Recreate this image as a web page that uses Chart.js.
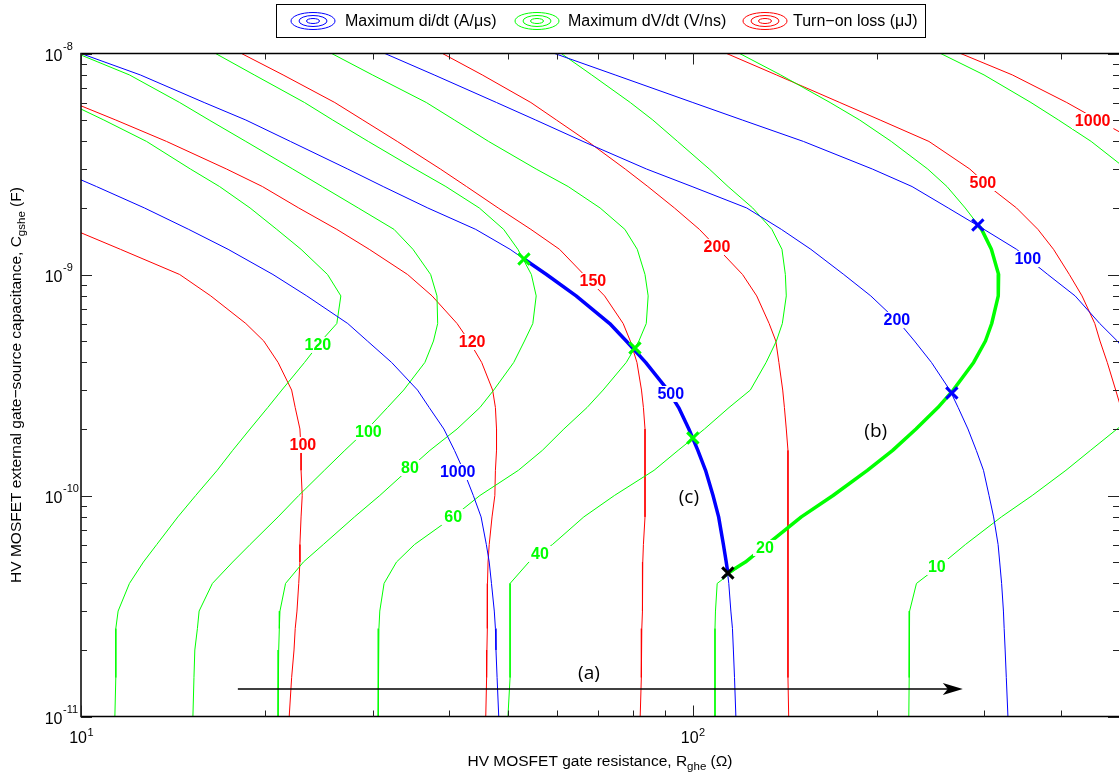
<!DOCTYPE html>
<html>
<head>
<meta charset="utf-8">
<title>Gate resistance / gate-source capacitance design map</title>
<script src="https://cdn.jsdelivr.net/npm/chart.js@4.4.1/dist/chart.umd.min.js"></script>
<style>
  html, body { margin: 0; padding: 0; background: #fff; }
  canvas { display: block; }
</style>
</head>
<body>
<canvas id="myChart" width="1119" height="777"></canvas>
<script>
// external gate-source capacitance (F): the rows every contour is read at
const capGrid = [1e-8, 8e-9, 6e-9, 5e-9, 4e-9, 3e-9, 2.5e-9, 2e-9, 1.6e-9, 1.3e-9,
  1e-9, 8e-10, 6e-10, 5e-10, 4e-10, 3e-10, 2.5e-10, 2e-10, 1.6e-10, 1.3e-10,
  1e-10, 8e-11, 6e-11, 5e-11, 4e-11, 3e-11, 2.5e-11, 2e-11, 1.5e-11, 1e-11];

// gate resistance (ohm) of each contour at the capGrid rows, null = not on the map
// maximum di/dt (A/us)
const didt1000 = [null, null, null, null, null, 9.1, 10.6, 12.7, 15.0, 17.4,
  20.6, 23.4, 27.3, 29.4, 32.2, 35.5, 37.1, 39.2, 40.8, 42.2,
  43.8, 45.1, 46.0, 46.5, 46.9, 47.4, 47.6, 47.7, 47.9, 48.2];
const didt500 = [10.0, 12.5, 15.9, 18.6, 22.0, 27.3, 31.2, 36.9, 44.2, 50.3,
  57.7, 64.5, 73.2, 77.9, 83.8, 91.1, 94.9, 98.6, 102.0, 105.0,
  108.0, 110.3, 112.3, 113.5, 114.6, 115.5, 116.2, 116.6, 117.1, 117.7];
const didt200 = [31.4, 37.8, 47.8, 55.4, 66.2, 84.1, 99.8, 122.6, 139.7, 156.1,
  176.7, 195.6, 218.3, 230.6, 245.8, 263.4, 271.8, 282.0, 291.0, 299.0,
  305.3, 310.6, 315.9, 317.8, 320.1, 322.3, 323.2, 324.4, 325.8, 327.8];
const didt100 = [59.5, 74.7, 100.1, 120.6, 151.8, 196.8, 228.5, 261.8, 299.6, 338.6,
  380.9, 422.2, 463.2, 494.8, 528.0, null, null, null, null, null,
  null, null, null, null, null, null, null, null, null, null];

// maximum dV/dt (V/ns)
const dvdt120 = [null, 7.6, 9.5, 10.9, 12.8, 15.1, 16.85, 18.9, 20.9, 22.9,
  25.3, 26.6, 26.2, 24.7, 23.2, 21.3, 20.2, 18.9, 17.7, 16.7,
  15.4, 14.4, 13.3, 12.65, 12.0, 11.5, 11.4, 11.4, 11.4, 11.36];
const dvdt100 = [9.86, 12.0, 14.5, 16.2, 18.6, 22.2, 24.8, 28.4, 32.5, 34.9,
  37.3, 38.2, 38.3, 37.7, 36.5, 33.7, 31.7, 29.4, 27.0, 25.0,
  22.7, 21.0, 18.9, 17.7, 16.4, 15.6, 15.5, 15.35, 15.3, 15.24];
const dvdt80 = [16.6, 19.2, 23.2, 25.8, 29.5, 35.2, 39.5, 44.8, 49.1, 51.8,
  54.5, 55.5, 54.8, 53.1, 51.0, 47.3, 44.9, 41.2, 37.2, 34.2,
  30.8, 28.0, 24.9, 23.1, 21.6, 21.15, 21.1, 21.05, 21.0, 21.0];
const dvdt60 = [25.7, 29.96, 36.7, 40.8, 46.4, 55.5, 62.6, 70.6, 77.5, 81.2,
  83.6, 84.6, 84.0, 81.7, 77.9, 71.4, 67.2, 61.6, 56.8, 51.9,
  44.9, 40.6, 35.1, 32.8, 31.3, 30.8, 30.7, 30.65, 30.6, 30.6];
const dvdt40 = [61.0, 68.4, 79.1, 86.1, 94.5, 106.5, 114.3, 125.4, 134.8, 140.0,
  141.8, 142.3, 140.2, 137.1, 131.9, 124.3, 114.7, 104.6, 94.7, 86.5,
  74.5, 66.4, 59.0, 54.0, 50.3, 50.3, 50.3, 50.3, 50.3, 49.9];
const dvdt20 = [119.4, 139.3, 167.8, 187.6, 211.3, 242.4, 260.6, 279.1, 296.9, 308.0,
  316.5, 316.1, 308.4, 301.2, 288.1, 266.8, 251.8, 231.9, 212.4, 193.1,
  169.7, 150.6, 132.3, 122.0, 109.7, 109.0, 108.8, 108.8, 108.8, 108.8];
const dvdt10 = [254.5, 299.6, 357.5, 396.6, 448.5, 512.0, null, null, null, null,
  null, null, null, null, null, null, 553.0, 494.4, 447.3, 407.8,
  359.2, 319.8, 279.3, 258.0, 232.3, 226.4, 226.2, 226.0, 225.9, 225.7];

// turn-on loss (uJ)
const loss100 = [null, null, null, null, null, null, null, null, 9.7, 11.6,
  14.5, 16.3, 18.6, 19.9, 21.0, 22.1, 22.4, 22.8, 22.9, 22.9,
  23.0, 22.9, 22.8, 22.8, 22.7, 22.55, 22.4, 22.3, 22.1, 21.9];
const loss120 = [null, 7.5, 9.7, 11.4, 13.8, 17.3, 19.8, 22.7, 26.2, 29.6,
  34.2, 37.5, 41.2, 43.1, 45.2, 47.1, 47.6, 47.8, 47.8, 47.6,
  47.5, 47.0, 46.5, 46.3, 46.2, 46.2, 46.15, 46.1, 46.05, 45.9];
const loss150 = [18.3, 21.4, 26.0, 28.9, 32.9, 38.7, 42.7, 48.1, 54.4, 60.6,
  66.4, 71.8, 77.0, 79.1, 81.1, 82.5, 83.1, 83.6, 83.6, 83.6,
  83.6, 83.6, 83.1, 82.9, 82.9, 82.7, 82.6, 82.5, 82.4, 82.1];
const loss200 = [39.0, 45.3, 54.4, 59.9, 67.4, 77.6, 84.5, 93.4, 102.6, 110.3,
  120.7, 127.3, 133.4, 136.8, 138.4, 140.4, 141.3, 142.3, 143.2, 143.2,
  143.2, 143.2, 143.2, 143.2, 143.2, 143.2, 143.2, 143.2, 143.2, 143.6];
const loss500 = [113.7, 137.1, 174.1, 202.6, 243.5, 284.0, 305.3, 338.6, 367.0, 389.2,
  413.1, 433.3, 454.6, 463.6, 476.5, 491.8, 501.5, 511.6, null, null,
  null, null, null, null, null, null, null, null, null, null];
const loss1000 = [274.4, 333.3, 409.1, 460.1, 532.5, null, null, null, null, null,
  null, null, null, null, null, null, null, null, null, null,
  null, null, null, null, null, null, null, null, null, null];

// contour level labels
const didtLevels = ['1000', '500', '200', '100'];
const didtLabelR = [41.3, 92.1, 215.8, 353.3];
const didtLabelC = [1.277e-10, 2.88e-10, 6.22e-10, 1.175e-9];
const dvdtLevels = ['120', '100', '80', '60', '40', '20', '10'];
const dvdtLabelR = [24.4, 29.5, 34.5, 40.6, 56.3, 131.3, 250.8];
const dvdtLabelC = [4.80e-10, 1.94e-10, 1.332e-10, 7.99e-11, 5.44e-11, 5.79e-11, 4.75e-11];
const lossLevels = ['100', '120', '150', '200', '500', '1000'];
const lossLabelR = [23.06, 43.6, 68.7, 109.6, 298.3, 451];
const lossLabelC = [1.693e-10, 4.95e-10, 9.34e-10, 1.331e-9, 2.594e-9, 4.95e-9];

// intersection markers
const crossGreenR = [53.0, 80.5, 100.1];
const crossGreenC = [1.175e-9, 4.65e-10, 1.82e-10];
const crossBlackR = [114.2];
const crossBlackC = [4.46e-11];
const crossBlueR = [265.4, 292.7];
const crossBlueC = [2.91e-10, 1.675e-9];

// annotations
const noteText = ['(a)', '(b)', '(c)'];
const noteR = [67.7, 199.3, 98.6];
const noteC = [1.565e-11, 1.94e-10, 9.74e-11];
const arrowR = [18.05, 276.6];
const arrowC = 1.332e-11;

// axes
const rMajor = [10, 100];
const rMinor = [20, 30, 40, 50, 60, 70, 80, 90, 200, 300, 400];
const cMajor = [1e-11, 1e-10, 1e-9, 1e-8];
const seriesNames = ['Maximum di/dt (A/\u03bcs)', 'Maximum dV/dt (V/ns)', 'Turn\u2212on loss (\u03bcJ)'];

const BLUE = '#0000ff', GREEN = '#00ff00', RED = '#ff0000';
const FONT = '"Liberation Sans", Arial, Helvetica, sans-serif';

function pts(rs) {
  return capGrid.map((c, i) => ({ x: rs[i], y: c }));
}
function marks(rs, cs) {
  return rs.map((r, i) => ({ x: r, y: cs[i] }));
}
// piece of a contour between two crossing points
function between(rs, from, to) {
  const hi = Math.max(from[1], to[1]), lo = Math.min(from[1], to[1]);
  const out = [{ x: from[0], y: from[1] }];
  capGrid.forEach((c, i) => {
    if (c < hi && c > lo && rs[i] != null) out.push({ x: rs[i], y: c });
  });
  out.push({ x: to[0], y: to[1] });
  return out;
}

function contour(data, color) {
  return { data: pts(data), borderColor: color, borderWidth: 1, showLine: true,
    pointRadius: 0, tension: 0, fill: false };
}
function crosses(data, color) {
  return { data: data, borderColor: color, backgroundColor: color, pointStyle: 'crossRot',
    pointRadius: 8, borderWidth: 3, showLine: false };
}

let datasets = [
  crosses(marks(crossGreenR, crossGreenC), GREEN),
  crosses(marks(crossBlackR, crossBlackC), '#000'),
  crosses(marks(crossBlueR, crossBlueC), BLUE),
  { data: between(didt500, [crossGreenR[0], crossGreenC[0]], [crossBlackR[0], crossBlackC[0]]),
    borderColor: BLUE, borderWidth: 3.5, showLine: true, pointRadius: 0 },
  { data: between(dvdt20, [crossBlueR[1], crossBlueC[1]], [crossBlackR[0], crossBlackC[0]]),
    borderColor: GREEN, borderWidth: 3.5, showLine: true, pointRadius: 0 },
];
[didt1000, didt500, didt200, didt100].forEach(d => datasets.push(contour(d, BLUE)));
[dvdt120, dvdt100, dvdt80, dvdt60, dvdt40, dvdt20, dvdt10].forEach(d => datasets.push(contour(d, GREEN)));
[loss100, loss120, loss150, loss200, loss500, loss1000].forEach(d => datasets.push(contour(d, RED)));

function sup(ctx, base, exp, x, y, bigFont, smallFont, dy) {
  ctx.font = bigFont;
  ctx.textAlign = 'right';
  ctx.fillText(base, x, y);
  ctx.font = smallFont;
  ctx.textAlign = 'left';
  ctx.fillText(exp, x + 0.5, y - dy);
}

const decor = {
  id: 'decor',
  afterDatasetsDraw(chart) {
    const { ctx, chartArea: a, scales: { x, y } } = chart;
    ctx.save();

    // contour labels
    const groups = [
      [didtLevels, didtLabelR, didtLabelC, BLUE],
      [dvdtLevels, dvdtLabelR, dvdtLabelC, GREEN],
      [lossLevels, lossLabelR, lossLabelC, RED]
    ];
    ctx.font = 'bold 16px ' + FONT;
    ctx.textBaseline = 'middle';
    ctx.textAlign = 'center';
    groups.forEach(([txt, rs, cs, col]) => {
      txt.forEach((t, i) => {
        const px = x.getPixelForValue(rs[i]), py = y.getPixelForValue(cs[i]);
        const w = ctx.measureText(t).width;
        ctx.fillStyle = '#fff';
        ctx.fillRect(px - w / 2 - 3, py - 8, w + 6, 16);
        ctx.fillStyle = col;
        ctx.fillText(t, px, py + 1);
      });
    });

    // (a) (b) (c)
    ctx.font = '19px "Open Sans", ' + FONT;
    ctx.fillStyle = '#000';
    noteText.forEach((t, i) => {
      ctx.fillText(t, x.getPixelForValue(noteR[i]), y.getPixelForValue(noteC[i]));
    });

    // arrow (a)
    const ax0 = x.getPixelForValue(arrowR[0]), ax1 = x.getPixelForValue(arrowR[1]);
    const ay = y.getPixelForValue(arrowC);
    ctx.strokeStyle = '#000';
    ctx.lineWidth = 1.5;
    ctx.beginPath();
    ctx.moveTo(ax0, ay);
    ctx.lineTo(ax1 - 12, ay);
    ctx.stroke();
    ctx.beginPath();
    ctx.moveTo(ax1, ay);
    ctx.lineTo(ax1 - 20, ay - 6);
    ctx.lineTo(ax1 - 15, ay);
    ctx.lineTo(ax1 - 20, ay + 6);
    ctx.closePath();
    ctx.fillStyle = '#000';
    ctx.fill();

    // axes box and ticks
    ctx.strokeStyle = '#000';
    ctx.lineWidth = 1.5;
    ctx.beginPath();
    ctx.moveTo(a.right, a.top);
    ctx.lineTo(a.left, a.top);
    ctx.lineTo(a.left, a.bottom);
    ctx.lineTo(a.right, a.bottom);
    ctx.stroke();

    ctx.lineWidth = 1;
    ctx.strokeStyle = '#222';
    const tick = (px, len, vertical) => {
      if (vertical) {
        ctx.moveTo(px, a.bottom); ctx.lineTo(px, a.bottom - len);
        ctx.moveTo(px, a.top); ctx.lineTo(px, a.top + len);
      } else {
        ctx.moveTo(a.left, px); ctx.lineTo(a.left + len, px);
        ctx.moveTo(a.right, px); ctx.lineTo(a.right - len, px);
      }
    };
    ctx.beginPath();
    rMajor.forEach(v => tick(Math.round(x.getPixelForValue(v)) + 0.5, 11, true));
    rMinor.forEach(v => tick(Math.round(x.getPixelForValue(v)) + 0.5, 6, true));
    cMajor.forEach((v, k) => {
      tick(Math.round(y.getPixelForValue(v)) + 0.5, 11, false);
      if (k < cMajor.length - 1) {
        for (let m = 2; m <= 9; m++) tick(Math.round(y.getPixelForValue(v * m)) + 0.5, 6, false);
      }
    });
    ctx.stroke();
    ctx.restore();
  },
  afterDraw(chart) {
    const { ctx, chartArea: a, scales: { x, y } } = chart;
    ctx.save();
    ctx.fillStyle = '#000';
    ctx.textBaseline = 'alphabetic';

    // tick labels
    const big = '16px ' + FONT, small = '11px ' + FONT;
    rMajor.forEach(v => {
      const px = x.getPixelForValue(v);
      sup(ctx, '10', String(Math.round(Math.log10(v))), px + 6, a.bottom + 26.5, big, small, 7);
    });
    cMajor.forEach(v => {
      const py = y.getPixelForValue(v);
      sup(ctx, '10', String(Math.round(Math.log10(v))), 62.5, py + 7, big, small, 10.5);
    });

    // axis titles
    const tf = '15.5px ' + FONT, sf = '11.5px ' + FONT;
    const parts = (main, sub, tail) => {
      ctx.font = tf; const w1 = ctx.measureText(main).width, w3 = ctx.measureText(tail).width;
      ctx.font = sf; const w2 = ctx.measureText(sub).width;
      return [w1, w2, w3];
    };
    const drawTitle = (main, sub, tail, cx, base) => {
      const [w1, w2, w3] = parts(main, sub, tail);
      let x0 = cx - (w1 + w2 + w3) / 2;
      ctx.textAlign = 'left';
      ctx.font = tf; ctx.fillText(main, x0, base);
      ctx.font = sf; ctx.fillText(sub, x0 + w1, base + 4);
      ctx.font = tf; ctx.fillText(tail, x0 + w1 + w2, base);
    };
    drawTitle('HV MOSFET gate resistance, R', 'ghe', ' (\u03a9)', (a.left + a.right) / 2, 766);
    ctx.save();
    ctx.translate(21, (a.top + a.bottom) / 2);
    ctx.rotate(-Math.PI / 2);
    drawTitle('HV MOSFET external gate\u2212source capacitance, C', 'gshe', ' (F)', 0, 0);
    ctx.restore();

    // legend
    ctx.fillStyle = '#fff';
    ctx.fillRect(276, 4, 650, 33);
    ctx.strokeStyle = '#000';
    ctx.lineWidth = 1;
    ctx.strokeRect(276.5, 4.5, 649, 33);
    const cols = [BLUE, GREEN, RED];
    const iconX = [313, 537, 765], textX = [345, 568, 793];
    ctx.font = '16px ' + FONT;
    ctx.textBaseline = 'middle';
    ctx.textAlign = 'left';
    seriesNames.forEach((name, i) => {
      ctx.strokeStyle = cols[i];
      [[22, 8.5], [14, 5.5], [6.5, 2.5]].forEach(([rx, ry]) => {
        ctx.beginPath();
        ctx.ellipse(iconX[i], 21, rx, ry, 0, 0, Math.PI * 2);
        ctx.stroke();
      });
      ctx.fillStyle = '#000';
      ctx.fillText(name, textX[i], 21.5);
    });
    ctx.restore();
  }
};

new Chart(document.getElementById('myChart'), {
  type: 'scatter',
  data: { datasets: datasets },
  options: {
    responsive: false,
    animation: false,
    devicePixelRatio: 1,
    layout: { autoPadding: false, padding: { left: 81, top: 53.5, right: 0, bottom: 60.5 } },
    scales: {
      x: { type: 'logarithmic', min: 10, max: 498, display: false },
      y: { type: 'logarithmic', min: 1e-11, max: 1e-8, display: false }
    },
    plugins: { legend: { display: false }, tooltip: { enabled: false } },
    elements: { line: { borderJoinStyle: 'round' } }
  },
  plugins: [decor]
});
</script>
</body>
</html>
